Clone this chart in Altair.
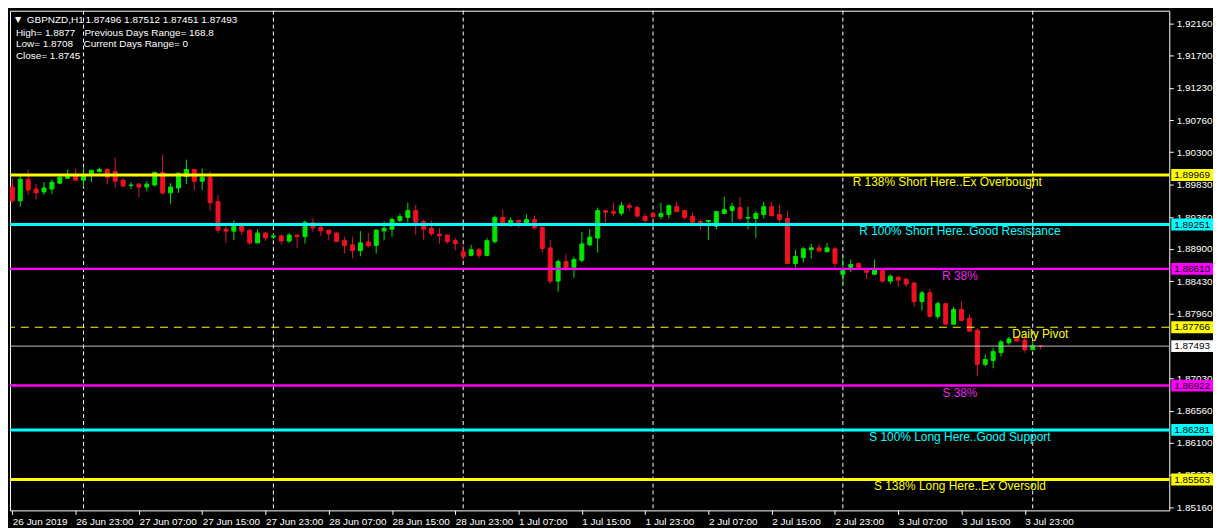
import json
import altair as alt
import pandas as pd

# ---------------- data ----------------
opens = [
    1.89794, 1.89595, 1.89906, 1.89765, 1.89723, 1.89765, 1.89850, 1.89921, 1.89963, 1.89892,
    1.89992, 1.90020, 1.90048, 1.90020, 1.89892, 1.89815, 1.89836, 1.89794, 1.89822, 1.90006,
    1.89709, 1.89780, 1.89949, 1.90048, 1.89878, 1.89935, 1.89581, 1.89184, 1.89156, 1.89241,
    1.89170, 1.88986, 1.89128, 1.89070, 1.89085, 1.89014, 1.89099, 1.89075, 1.89283, 1.89213,
    1.89170, 1.89128, 1.89018, 1.88957, 1.88876, 1.89000, 1.88947, 1.89160, 1.89184, 1.89311,
    1.89354, 1.89453, 1.89297, 1.89198, 1.89113, 1.89099, 1.89018, 1.88858, 1.88806, 1.88887,
    1.88806, 1.89004, 1.89354, 1.89269, 1.89311, 1.89269, 1.89325, 1.89213, 1.88914, 1.88433,
    1.88717, 1.88632, 1.88735, 1.88957, 1.89056, 1.89453, 1.89439, 1.89415, 1.89524, 1.89496,
    1.89368, 1.89410, 1.89368, 1.89396, 1.89510, 1.89453, 1.89368, 1.89297, 1.89297, 1.89227,
    1.89410, 1.89453, 1.89496, 1.89344, 1.89339, 1.89396, 1.89510, 1.89396, 1.89339, 1.88688,
    1.88773, 1.88887, 1.88914, 1.88858, 1.88900, 1.88532, 1.88632, 1.88688, 1.88603, 1.88532,
    1.88589, 1.88433, 1.88490, 1.88461, 1.88405, 1.88136, 1.88263, 1.87922, 1.88107, 1.87810,
    1.88022, 1.87894, 1.87724, 1.87229, 1.87285, 1.87399, 1.87540, 1.87625, 1.87582, 1.87441,
    1.87496,
]
highs = [
    1.89921, 1.89963, 1.90048, 1.89836, 1.89864, 1.89906, 1.89949, 1.90048, 1.90063, 1.90077,
    1.90048, 1.90077, 1.90063, 1.90219, 1.89921, 1.89864, 1.89850, 1.89878, 1.90010, 1.90261,
    1.89850, 1.90006, 1.90190, 1.90055, 1.90063, 1.90020, 1.89680, 1.89241, 1.89311, 1.89283,
    1.89177, 1.89184, 1.89142, 1.89113, 1.89113, 1.89128, 1.89106, 1.89311, 1.89339, 1.89227,
    1.89177, 1.89142, 1.89075, 1.89075, 1.89156, 1.89128, 1.89177, 1.89297, 1.89354, 1.89410,
    1.89567, 1.89538, 1.89325, 1.89311, 1.89198, 1.89113, 1.89056, 1.88957, 1.88957, 1.88914,
    1.89056, 1.89382, 1.89467, 1.89354, 1.89325, 1.89396, 1.89382, 1.89220, 1.89028, 1.88745,
    1.88830, 1.88788, 1.89142, 1.89184, 1.89496, 1.89460, 1.89567, 1.89581, 1.89567, 1.89524,
    1.89410, 1.89439, 1.89567, 1.89538, 1.89581, 1.89467, 1.89425, 1.89325, 1.89318, 1.89446,
    1.89652, 1.89567, 1.89652, 1.89510, 1.89453, 1.89581, 1.89581, 1.89538, 1.89453, 1.88887,
    1.88929, 1.88971, 1.88971, 1.88986, 1.88929, 1.88774, 1.88745, 1.88702, 1.88618, 1.88745,
    1.88603, 1.88532, 1.88504, 1.88476, 1.88419, 1.88291, 1.88320, 1.88135, 1.88114, 1.88064,
    1.88135, 1.87951, 1.87753, 1.87370, 1.87469, 1.87582, 1.87625, 1.87639, 1.87639, 1.87560,
    1.87512,
]
lows = [
    1.89567, 1.89510, 1.89680, 1.89609, 1.89680, 1.89695, 1.89836, 1.89915, 1.89885, 1.89794,
    1.89864, 1.90006, 1.89836, 1.89780, 1.89800, 1.89765, 1.89652, 1.89737, 1.89815, 1.89680,
    1.89553, 1.89709, 1.89836, 1.89751, 1.89751, 1.89453, 1.89128, 1.88986, 1.89028, 1.89099,
    1.88957, 1.88979, 1.89014, 1.89042, 1.88957, 1.88986, 1.88914, 1.88976, 1.89146, 1.89089,
    1.89032, 1.88997, 1.88834, 1.88764, 1.88792, 1.88919, 1.88834, 1.89024, 1.89075, 1.89283,
    1.89283, 1.89104, 1.89024, 1.89089, 1.88976, 1.88976, 1.88876, 1.88721, 1.88792, 1.88764,
    1.88792, 1.88976, 1.89262, 1.89217, 1.89203, 1.89241, 1.89174, 1.88848, 1.88390, 1.88281,
    1.88580, 1.88480, 1.88707, 1.88947, 1.88844, 1.89269, 1.89368, 1.89382, 1.89453, 1.89365,
    1.89269, 1.89325, 1.89325, 1.89339, 1.89432, 1.89325, 1.89255, 1.89170, 1.89028, 1.89184,
    1.89403, 1.89283, 1.89311, 1.89184, 1.89056, 1.89339, 1.89368, 1.89269, 1.88674, 1.88632,
    1.88702, 1.88759, 1.88844, 1.88851, 1.88632, 1.88390, 1.88561, 1.88608, 1.88461, 1.88525,
    1.88405, 1.88390, 1.88348, 1.88348, 1.88064, 1.88008, 1.87908, 1.87880, 1.87803, 1.87803,
    1.87852, 1.87696, 1.87058, 1.87200, 1.87172, 1.87342, 1.87512, 1.87561, 1.87399, 1.87434,
    1.87451,
]
closes = [
    1.89595, 1.89906, 1.89751, 1.89709, 1.89780, 1.89864, 1.89935, 1.89949, 1.89892, 1.89963,
    1.90034, 1.90048, 1.89935, 1.89878, 1.89808, 1.89822, 1.89794, 1.89836, 1.90006, 1.89709,
    1.89794, 1.89992, 1.90048, 1.89878, 1.89935, 1.89567, 1.89170, 1.89156, 1.89241, 1.89156,
    1.88986, 1.89128, 1.89056, 1.89085, 1.89014, 1.89099, 1.89075, 1.89283, 1.89203, 1.89160,
    1.89118, 1.89004, 1.88947, 1.88876, 1.88986, 1.88943, 1.89170, 1.89198, 1.89325, 1.89368,
    1.89453, 1.89283, 1.89184, 1.89118, 1.89089, 1.89004, 1.88976, 1.88792, 1.88887, 1.88806,
    1.89018, 1.89354, 1.89269, 1.89311, 1.89283, 1.89325, 1.89203, 1.88905, 1.88433, 1.88717,
    1.88632, 1.88745, 1.88971, 1.89070, 1.89453, 1.89429, 1.89415, 1.89524, 1.89500, 1.89372,
    1.89311, 1.89368, 1.89410, 1.89524, 1.89439, 1.89354, 1.89283, 1.89273, 1.89311, 1.89439,
    1.89467, 1.89510, 1.89339, 1.89354, 1.89410, 1.89510, 1.89382, 1.89325, 1.88688, 1.88788,
    1.88900, 1.88914, 1.88872, 1.88914, 1.88688, 1.88589, 1.88674, 1.88632, 1.88561, 1.88589,
    1.88433, 1.88504, 1.88447, 1.88390, 1.88136, 1.88263, 1.87922, 1.88107, 1.87810, 1.88022,
    1.87866, 1.87710, 1.87229, 1.87299, 1.87413, 1.87554, 1.87597, 1.87568, 1.87441, 1.87497,
    1.87493,
]

x_labels = [
    "26 Jun 2019", "26 Jun 23:00", "27 Jun 07:00", "27 Jun 15:00", "27 Jun 23:00",
    "28 Jun 07:00", "28 Jun 15:00", "28 Jun 23:00", "1 Jul 07:00", "1 Jul 15:00",
    "1 Jul 23:00", "2 Jul 07:00", "2 Jul 15:00", "2 Jul 23:00", "3 Jul 07:00",
    "3 Jul 15:00", "3 Jul 23:00",
]
# 1.87490 sits entirely under the current-price box, so it is not listed
y_ticks = [1.92160, 1.91700, 1.91230, 1.90760, 1.90300, 1.89830, 1.89360, 1.88900,
           1.88430, 1.87960, 1.87030, 1.86560, 1.86100, 1.85630, 1.85160]
day_starts = [9, 33, 57, 81, 105, 129]

levels = [1.89969, 1.89251, 1.88610, 1.87766, 1.87493, 1.86922, 1.86281, 1.85563]
level_labels = ["R 138% Short Here..Ex Overbought", "R 100% Short Here..Good Resistance",
                "R 38%", "Daily Pivot", "", "S 38%", "S 100% Long Here..Good Support",
                "S 138% Long Here..Ex Oversold"]
info_texts = ["GBPNZD,H1", "1.87496 1.87512 1.87451 1.87493", "High= 1.8877",
              "Previous Days Range= 168.8", "Low= 1.8708", "Current Days Range= 0",
              "Close= 1.8745"]

# ---------------- styling ----------------
W, H = 1167, 503
FONT = "Liberation Sans"
GREEN = "#00E600"
RED_BODY = "#F01020"
RED_WICK = "#DC143C"
YEL, CYA, MAG, WHT, GRY = "#FFFF00", "#00FFFF", "#FF00FF", "#FFFFFF", "#C0C0C0"
level_colors = [YEL, CYA, MAG, YEL, GRY, MAG, CYA, YEL]
level_widths = [3, 3, 2.5, 1, 1, 2.5, 3, 3]
level_dash = [None, None, None, [8, 6], None, None, None, None]
box_fill = [YEL, CYA, MAG, YEL, WHT, MAG, CYA, YEL]
text_colors = [YEL, CYA, "#EE22EE", YEL, None, "#EE22EE", CYA, YEL]
text_x = [118.2, 119.8, 119.8, 126.4, None, 119.8, 119.8, 119.8]
text_align = ["center", "center", "center", "left", None, "center", "center", "center"]

xs = alt.Scale(domain=[-0.30, 146.27], nice=False, zero=False, padding=0)
ys = alt.Scale(domain=[1.85117, 1.92344], nice=False, zero=False, padding=0)

df = pd.DataFrame({"i": list(range(len(opens))), "o": opens, "h": highs, "l": lows, "c": closes})
df["body"] = [GREEN if c >= o else RED_BODY for o, c in zip(opens, closes)]
df["wick"] = [GREEN if c >= o else RED_WICK for o, c in zip(opens, closes)]

x_axis = alt.Axis(
    values=list(range(0, 8 * len(x_labels), 8)),
    labelExpr=json.dumps(x_labels) + "[round(datum.value / 8)]",
    labelAlign="left", labelColor=WHT, labelFont=FONT, labelFontSize=10,
    labelPadding=2, tickColor=WHT, tickSize=4, domain=False, grid=False,
    labelOverlap=False, title=None, labelFlush=False,
)
y_axis = alt.Axis(
    orient="right", values=y_ticks, format=".5f", labelColor=WHT, labelFont=FONT,
    labelFontSize=10, labelPadding=3, tickColor=WHT, tickSize=4, domain=False,
    grid=False, labelOverlap=False, title=None, labelBaseline="middle", labelFlush=False,
)


def X(field):
    return alt.X(field, scale=xs, axis=x_axis, title=None)


def Y(field):
    return alt.Y(field, scale=ys, axis=y_axis, title=None)


grid = alt.Chart(pd.DataFrame({"i": day_starts})).mark_rule(
    color=WHT, strokeWidth=1, strokeDash=[4, 3]
).encode(x=X("i:Q"))

wicks = alt.Chart(df).mark_rule(strokeWidth=1).encode(
    x=X("i:Q"), y=Y("l:Q"), y2="h:Q",
    color=alt.Color("wick:N", scale=None),
)
bodies = alt.Chart(df).mark_bar(size=4, strokeWidth=1).encode(
    x=X("i:Q"), y=Y("o:Q"), y2="c:Q",
    fill=alt.Fill("body:N", scale=None),
    stroke=alt.Stroke("body:N", scale=None),
)

layers = [grid, wicks, bodies]

for k, lv in enumerate(levels):
    kw = dict(color=level_colors[k], strokeWidth=level_widths[k])
    if level_dash[k] is not None:
        kw["strokeDash"] = level_dash[k]
    layers.append(
        alt.Chart(pd.DataFrame({"p": [lv]})).mark_rule(**kw).encode(y=Y("p:Q"))
    )

for k, lv in enumerate(levels):
    if not level_labels[k]:
        continue
    layers.append(
        alt.Chart(pd.DataFrame({"p": [lv], "x": [text_x[k]], "t": [level_labels[k]]})).mark_text(
            align=text_align[k], baseline="middle", dy=7, font=FONT, fontSize=12,
            color=text_colors[k],
        ).encode(x=X("x:Q"), y=Y("p:Q"), text="t:N")
    )

box_df = pd.DataFrame({"p": levels, "fill": box_fill, "lab": [f"{v:.5f}" for v in levels]})
boxes = alt.Chart(box_df).mark_rect(yOffset=-6, y2Offset=6).encode(
    x=alt.value(W + 2), x2=alt.value(W + 44),
    y=Y("p:Q"), y2="p:Q",
    fill=alt.Fill("fill:N", scale=None),
)
box_text = alt.Chart(box_df).mark_text(
    align="left", baseline="middle", font=FONT, fontSize=10, color="#000000"
).encode(x=alt.value(W + 5), y=Y("p:Q"), text="lab:N")
layers += [boxes, box_text]

# info block, top-left
layers.append(
    alt.Chart(pd.DataFrame({"t": ["\u25bc"]})).mark_text(
        align="left", baseline="middle", font="DejaVu Sans", fontSize=8, color=WHT
    ).encode(x=alt.value(5), y=alt.value(9), text="t:N")
)
info_pos = [(17, 9), (76, 9), (6, 22), (75, 22), (6, 34), (74, 34), (6, 46)]
for t, (px, py) in zip(info_texts, info_pos):
    layers.append(
        alt.Chart(pd.DataFrame({"t": [t]})).mark_text(
            align="left", baseline="middle", font=FONT, fontSize=10, color=WHT
        ).encode(x=alt.value(px), y=alt.value(py), text="t:N")
    )

chart = alt.layer(*layers).properties(
    width=W, height=H, padding=0, background="#000000"
).configure_view(stroke=WHT, strokeWidth=1, fill="#000000")

chart.save("out.html", embed_options={"renderer": "svg", "actions": False})
